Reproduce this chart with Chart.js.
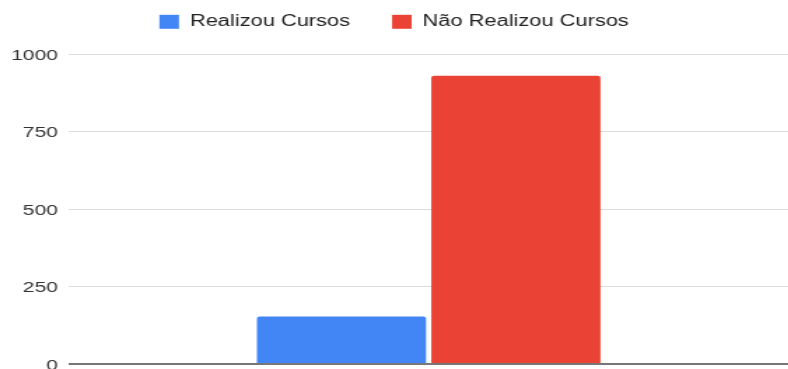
<!DOCTYPE html>
<html>
<head>
<meta charset="utf-8">
<script src="https://cdn.jsdelivr.net/npm/chart.js@4/dist/chart.umd.min.js"></script>
<style>
  html, body { margin: 0; padding: 0; background: #fff; overflow: hidden; }
  /* the reference is stretched sideways, so the chart is drawn narrower and scaled */
  #wrap { width: 563px; height: 369px; transform: scaleX(1.4); transform-origin: 0 0; }
</style>
</head>
<body>
<div id="wrap"><canvas id="cursosChart"></canvas></div>
<script>
// dados do gráfico
const categories = [''];
const seriesNames = ['Realizou Cursos', 'Não Realizou Cursos'];
const realizouValues = [153];
const naoRealizouValues = [930];
const yTicks = [0, 250, 500, 750, 1000];

const seriesColors = ['#4285F4', '#EA4335'];
const fontFamily = "'Liberation Sans', Arial, sans-serif";

// altura fixa da legenda
const legendHeight = {
    id: 'legendHeight',
    beforeInit(chart) {
        const fit = chart.legend.fit;
        chart.legend.fit = function () {
            fit.call(this);
            this.height = 70;
        };
    }
};

const ctx = document.getElementById('cursosChart').getContext('2d');
new Chart(ctx, {
    type: 'bar',
    data: {
        labels: categories,
        datasets: [{
            label: seriesNames[0],
            data: realizouValues,
            backgroundColor: seriesColors[0],
            borderRadius: 2,
            barPercentage: 0.97,
            categoryPercentage: 0.485
        }, {
            label: seriesNames[1],
            data: naoRealizouValues,
            backgroundColor: seriesColors[1],
            borderRadius: 2,
            barPercentage: 0.97,
            categoryPercentage: 0.485
        }]
    },
    options: {
        responsive: true,
        maintainAspectRatio: false,
        animation: false,
        layout: { padding: { top: -16, left: 0, right: 0, bottom: 5 } },
        plugins: {
            tooltip: { enabled: false },
            legend: {
                position: 'top',
                align: 'center',
                labels: {
                    boxWidth: 14,
                    boxHeight: 14,
                    padding: 30,
                    color: '#222',
                    font: { family: fontFamily, size: 15.6 }
                }
            }
        },
        scales: {
            x: { display: false },
            y: {
                min: yTicks[0],
                max: yTicks[yTicks.length - 1],
                afterBuildTicks: axis => { axis.ticks = yTicks.map(v => ({ value: v })); },
                afterFit: axis => { axis.paddingBottom = 0; },
                border: { display: false },
                grid: {
                    drawTicks: false,
                    color: c => c.tick.value === 0 ? '#777' : '#dcdcdc',
                    lineWidth: c => c.tick.value === 0 ? 2 : 1
                },
                ticks: {
                    padding: 8,
                    labelOffset: 1.5,
                    color: '#333',
                    font: { family: fontFamily, size: 15 },
                    callback: v => String(v)
                }
            }
        }
    },
    plugins: [legendHeight]
});
</script>
</body>
</html>
